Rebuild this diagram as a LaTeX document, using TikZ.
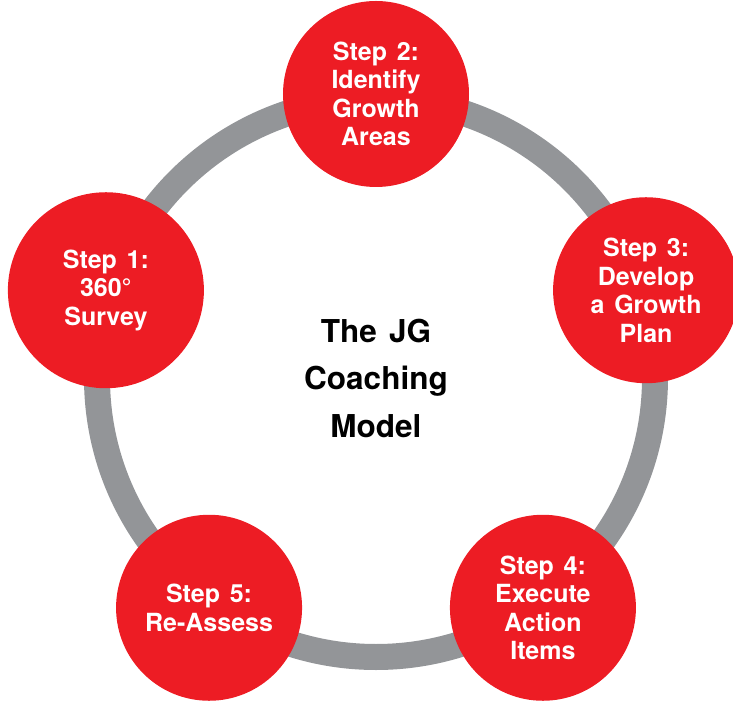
\documentclass[tikz,border=0pt]{standalone}
\usepackage{fontspec}
\setmainfont[WordSpace=1.4]{TeX Gyre Heros}
\definecolor{jgred}{HTML}{ED1C24}
\definecolor{jggray}{HTML}{939598}
\tikzset{
	stepnode/.style={circle, fill=jgred, text=white, inner sep=0pt,
		minimum size=186pt, align=center,
		font=\fontsize{25}{28.5}\selectfont\bfseries},
	titlenode/.style={align=center, font=\fontsize{31.5}{47.5}\selectfont\bfseries}
}
\begin{document}
\begin{tikzpicture}[x=1pt,y=1pt]
	\newcommand{\ringrad}{279pt}
	\newcommand{\steprad}{284pt}
	\useasboundingbox (-376,-328) rectangle (357,378);
	\clip (-376,-328) rectangle (357,378);

	% ring
	\draw[jggray, line width=26pt] (0,0) circle (\ringrad);

	% steps
	\node[stepnode, minimum size=196pt] (step1) at (162:\steprad) {Step 1:\\360°\\Survey};
	\foreach \name/\ang/\txt in {step2/90/{Step 2:\\Identify\\Growth\\Areas},
		step3/18/{Step 3:\\Develop\\a Growth\\Plan},
		step4/-54/{Step 4:\\Execute\\Action\\Items},
		step5/234/{Step 5:\\Re-Assess}}
	\node[stepnode] (\name) at (\ang:\steprad) {\txt};

	\node[titlenode] (model) at (0,0) {The JG\\Coaching\\Model};
\end{tikzpicture}
\end{document}
